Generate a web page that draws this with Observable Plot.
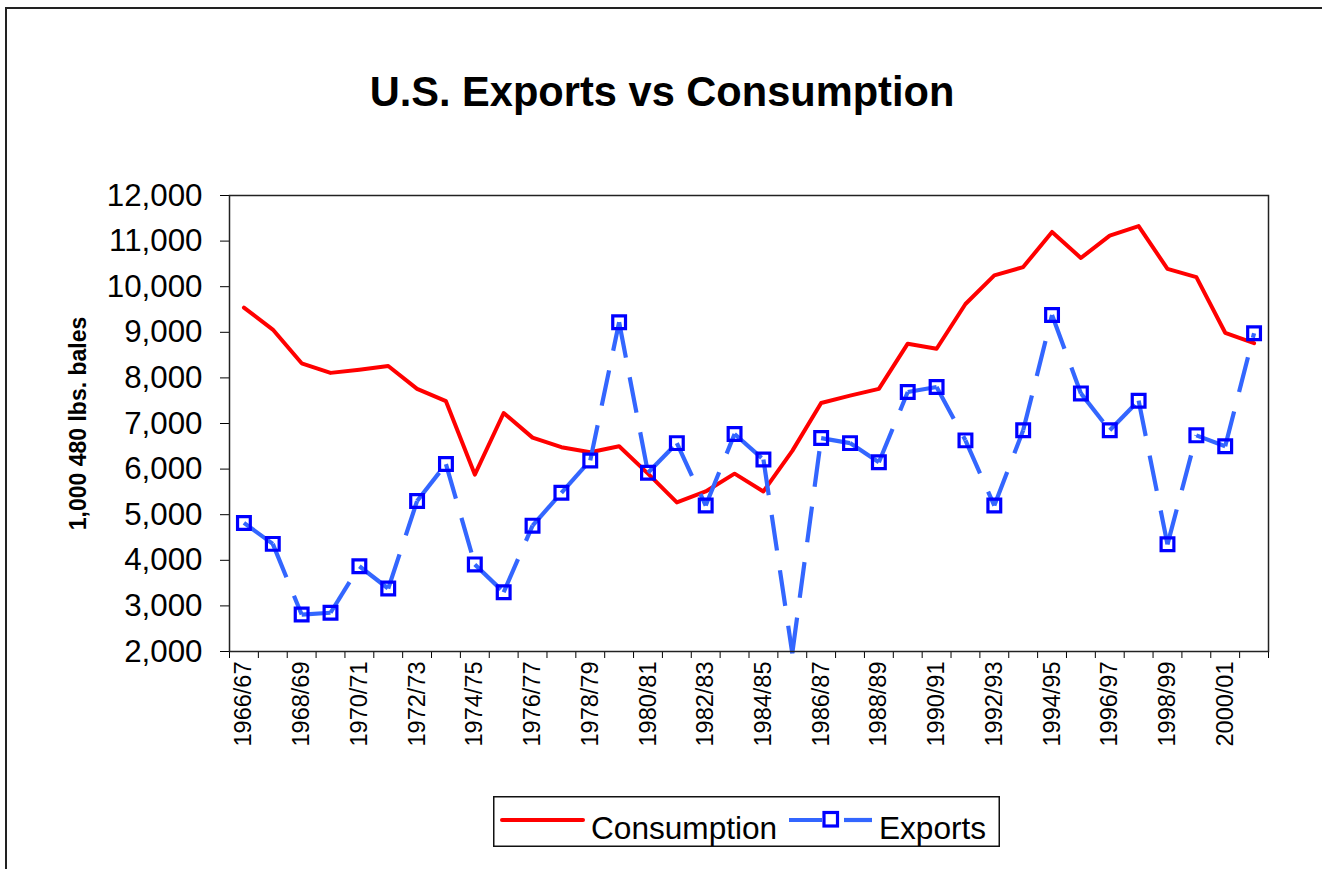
<!DOCTYPE html>
<html>
<head>
<meta charset="utf-8">
<script src="https://cdn.jsdelivr.net/npm/d3@7"></script>
<script src="https://cdn.jsdelivr.net/npm/@observablehq/plot@0.6"></script>
<style>
  html, body { margin: 0; padding: 0; background: #fff; width: 1322px; height: 869px; overflow: hidden; }
  body { position: relative; font-family: "Liberation Sans", Arial, sans-serif; color: #000; }
  #border { position: absolute; left: 5px; top: 7px; width: 1400px; height: 900px; border-top: 2px solid #222; border-left: 2px solid #222; }
  #title { position: absolute; left: 0; width: 1324px; top: 68px; text-align: center; font-size: 41.6px; font-weight: bold; line-height: normal; white-space: nowrap; }
  #chart { position: absolute; left: 0; top: 150px; }
  #legend { position: absolute; left: 493px; top: 796px; }
</style>
</head>
<body>
<div id="border"></div>
<div id="title">U.S. Exports vs Consumption</div>
<div id="chart"></div>
<div id="legend"></div>
<script>
const categories = ["1966/67","1967/68","1968/69","1969/70","1970/71","1971/72","1972/73","1973/74","1974/75","1975/76",
  "1976/77","1977/78","1978/79","1979/80","1980/81","1981/82","1982/83","1983/84","1984/85","1985/86",
  "1986/87","1987/88","1988/89","1989/90","1990/91","1991/92","1992/93","1993/94","1994/95","1995/96",
  "1996/97","1997/98","1998/99","1999/00","2000/01","2001/02"];
const consumption = [9540, 9060, 8320, 8110, 8180, 8260, 7760, 7490, 5880, 7230,
  6690, 6480, 6370, 6500, 5900, 5270, 5510, 5900, 5510, 6400,
  7450, 7610, 7760, 8750, 8640, 9620, 10250, 10430, 11200, 10630,
  11120, 11330, 10390, 10210, 8990, 8760];
const exportsData = [4820, 4360, 2810, 2850, 3870, 3380, 5300, 6110, 3910, 3300,
  4760, 5480, 6190, 9220, 5920, 6570, 5200, 6770, 6210, 1960,
  6680, 6570, 6150, 7690, 7800, 6630, 5200, 6850, 9380, 7660,
  6850, 7500, 4350, 6740, 6500, 8980];
const yTicks = [2000, 3000, 4000, 5000, 6000, 7000, 8000, 9000, 10000, 11000, 12000];
const xTickLabels = categories.filter((c, i) => i % 2 === 0);
const yTitle = "1,000 480 lbs. bales";
const seriesNames = ["Consumption", "Exports"];

const idx = categories.map((c, i) => i);
const labelIdx = xTickLabels.map(l => categories.indexOf(l));
const boundaries = d3.range(categories.length + 1).map(i => i - 0.5);
const yMin = yTicks[0], yMax = yTicks[yTicks.length - 1];
const segs = d3.range(categories.length - 1).map(i => ({x1: i, y1: exportsData[i], x2: i + 1, y2: exportsData[i + 1]}));
const markerIdx = idx.filter(i => exportsData[i] >= yMin);

const chart = Plot.plot({
  width: 1322,
  height: 630,
  marginTop: 45,
  marginLeft: 229,
  marginRight: 54,
  marginBottom: 129,
  style: {fontFamily: '"Liberation Sans", Arial, sans-serif', color: "#000", background: "transparent", overflow: "visible"},
  x: {domain: [-0.5, categories.length - 0.5], label: null},
  y: {domain: [yMin, yMax], label: null},
  marks: [
    Plot.axisY({ticks: yTicks, tickSize: 9, tickPadding: 18, tickFormat: d3.format(","), fontSize: 31.3, label: null}),
    Plot.axisX({ticks: boundaries, tickSize: 7, tickFormat: () => "", label: null}),
    Plot.axisX({ticks: labelIdx, tickSize: 0, tickPadding: 10, tickRotate: -90, tickFormat: i => categories[i], fontSize: 23.5, label: null}),
    Plot.text([yTitle], {frameAnchor: "left", dx: -151, rotate: -90, textAnchor: "middle", fontSize: 23, fontWeight: "bold"}),
    Plot.line(idx, {x: i => i, y: i => consumption[i], stroke: "#FF0000", strokeWidth: 4, strokeLinejoin: "round"}),
    Plot.link(segs, {x1: "x1", y1: "y1", x2: "x2", y2: "y2", stroke: "#3366FF", strokeWidth: 4.2, strokeDasharray: "36,20", strokeLinecap: "butt"}),
    Plot.dot(markerIdx, {x: i => i, y: i => exportsData[i], symbol: "square", r: 7.2, stroke: "#0000FF", strokeWidth: 3.2, fill: "none"}),
    Plot.frame({stroke: "#222", strokeWidth: 1.5})
  ]
});
document.getElementById("chart").appendChild(chart);

document.getElementById("legend").innerHTML = `
<svg width="507" height="51" xmlns="http://www.w3.org/2000/svg" style="display:block;font-family:'Liberation Sans', Arial, sans-serif">
  <rect x="0.75" y="0.75" width="505.5" height="49.5" fill="#fff" stroke="#111" stroke-width="1.5"/>
  <line x1="9" y1="24" x2="90" y2="24" stroke="#FF0000" stroke-width="4" stroke-linecap="round"/>
  <text x="98" y="43" font-size="31.6">${seriesNames[0]}</text>
  <line x1="296" y1="24" x2="329" y2="24" stroke="#3366FF" stroke-width="4.2"/>
  <line x1="351" y1="24" x2="379" y2="24" stroke="#3366FF" stroke-width="4.2"/>
  <rect x="331" y="16.5" width="13.5" height="13.5" fill="#fff" stroke="#0000FF" stroke-width="3.2"/>
  <text x="386" y="43" font-size="31.6">${seriesNames[1]}</text>
</svg>`;
</script>
</body>
</html>
